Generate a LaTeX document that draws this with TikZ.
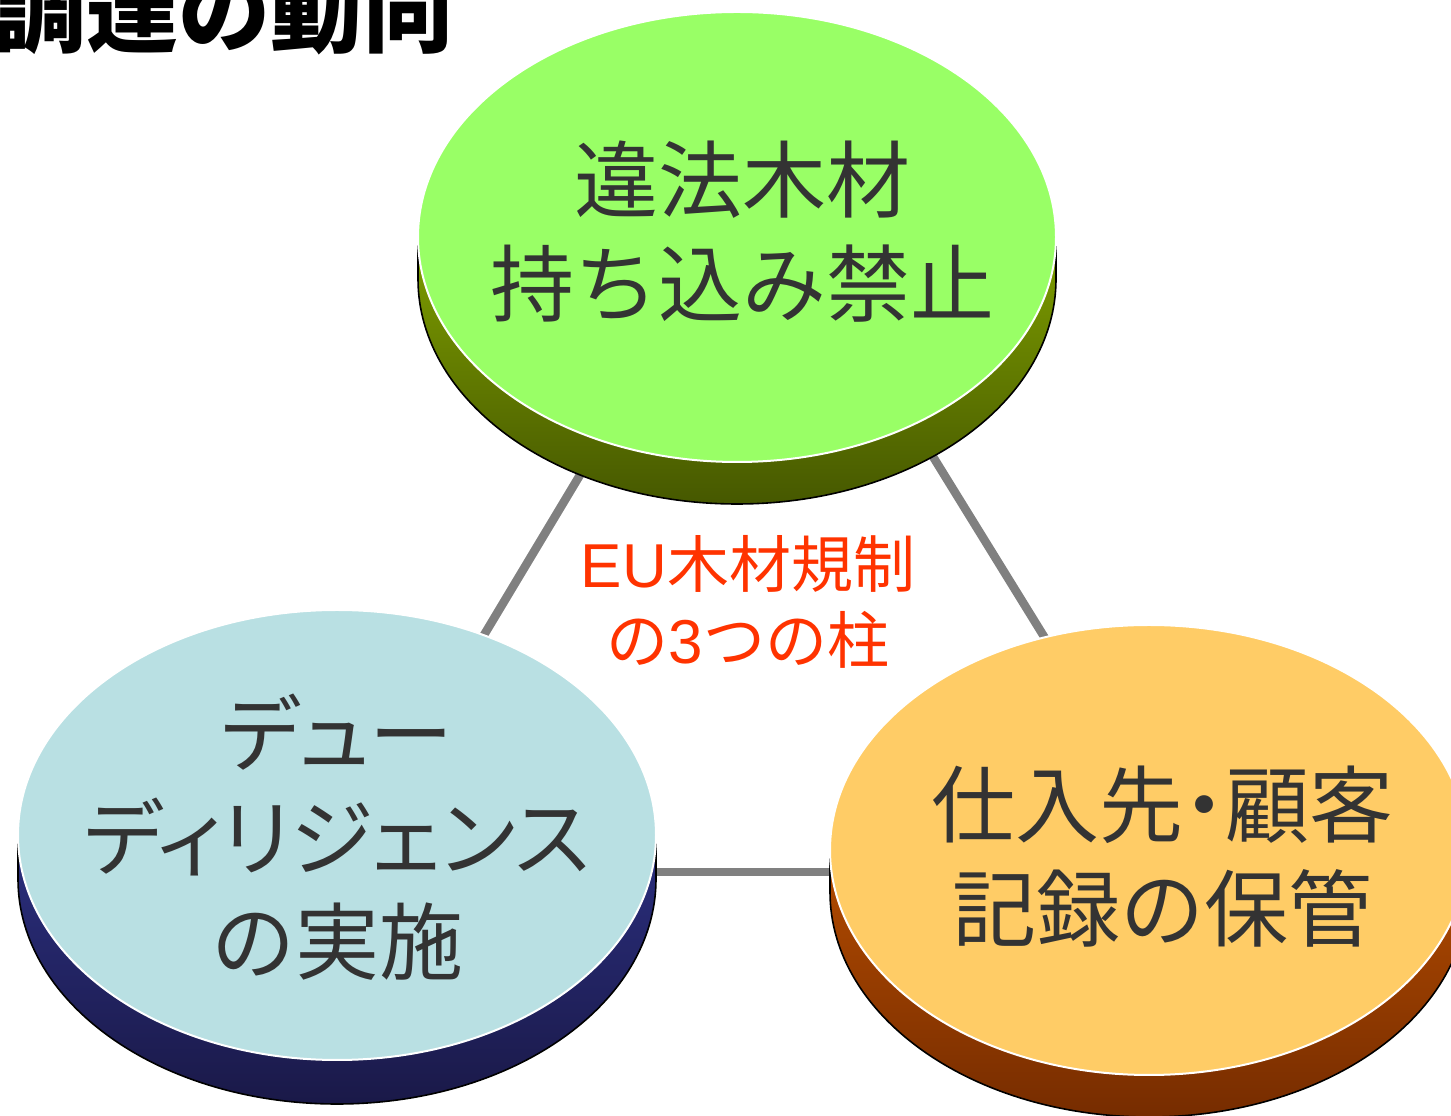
\documentclass[tikz,border=0pt]{standalone}
\usepackage{fontspec}
\setmainfont{Noto Sans CJK JP}
\newfontfamily\jpprop[RawFeature=+palt]{Noto Sans CJK JP}
\newfontfamily\latinsans{Liberation Sans}
\usetikzlibrary{shapes.geometric}
\definecolor{txtgray}{HTML}{333333}
\definecolor{linegray}{HTML}{808080}
\definecolor{redtxt}{HTML}{FF3300}
\definecolor{greentop}{HTML}{99FF66}
\definecolor{greenside1}{HTML}{7F9F00}
\definecolor{greenside2}{HTML}{465800}
\definecolor{bluetop}{HTML}{B9E0E3}
\definecolor{blueside1}{HTML}{2B2F7F}
\definecolor{blueside2}{HTML}{1A1948}
\definecolor{orangetop}{HTML}{FFCC66}
\definecolor{orangeside1}{HTML}{B44C00}
\definecolor{orangeside2}{HTML}{762C00}
\newcommand\mydisk[7]{%
  \path[top color=#5, bottom color=#6] (#1-319,#2) -- (#1-319,#2-#7)
     arc[start angle=180,end angle=360,x radius=319,y radius=225] -- (#1+319,#2)
     arc[start angle=0,end angle=-180,x radius=319,y radius=225] -- cycle;
  \draw[black, line width=1.6] (#1-319,#2) -- (#1-319,#2-#7)
     arc[start angle=180,end angle=360,x radius=319,y radius=225] -- (#1+319,#2);
  \node[disktop, fill=#4] (#3) at (#1,#2) {};
}
\tikzset{
  disktop/.style={ellipse, draw=white, line width=2, minimum width=638pt, minimum height=450pt, inner sep=0pt},
  conn/.style={draw=linegray, line width=8.5},
  disktext/.style={text=txtgray, align=center, inner sep=0pt, font=\fontsize{84}{104}\selectfont},
}
\begin{document}
\begin{tikzpicture}[x=1pt,y=1pt]
\useasboundingbox (0,0) rectangle (1451,1116);
\clip (0,0) rectangle (1451,1116);
% connector ends (hidden under disks)
\coordinate (a1) at (625,716);
\coordinate (a2) at (457,436);
\coordinate (b1) at (898,716);
\coordinate (b2) at (1077,426);
\coordinate (c1) at (600,244);
\coordinate (c2) at (880,244);
\draw[conn] (a1) -- (a2);
\draw[conn] (b1) -- (b2);
\draw[conn] (c1) -- (c2);
% disks
\mydisk{737}{879}{topdisk}{greentop}{greenside1}{greenside2}{42}
\mydisk{337}{281}{leftdisk}{bluetop}{blueside1}{blueside2}{44}
\mydisk{1149}{266}{rightdisk}{orangetop}{orangeside1}{orangeside2}{42}
% texts
\node[disktext] (toptext) at (742,884) {違法木材\\持ち込み禁止};
\node[disktext] (lefttext) at (337,279) {{\jpprop デュー}\\{\jpprop ディリジェンス}\\の実施};
\node[disktext] (righttext) at (1162,259) {{\jpprop 仕入先・顧客}\\記録の保管};
\node[text=redtxt, align=center, inner sep=0pt, font=\fontsize{62}{76}\selectfont] (center) at (748,514) {{\latinsans EU}木材規制\\の{\latinsans 3}つの柱};
\node[anchor=base east, inner sep=0pt, font=\fontsize{92}{92}\selectfont\bfseries] (title) at (455,1070) {調達の動向};
\end{tikzpicture}
\end{document}
